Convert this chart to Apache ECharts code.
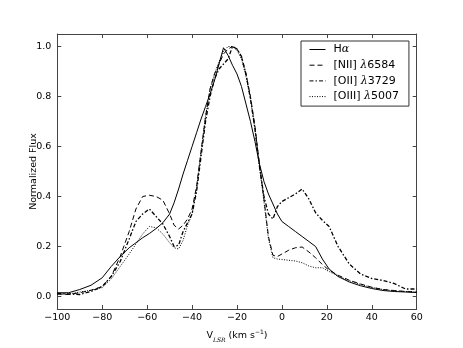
<!DOCTYPE html>
<html>
<head>
<meta charset="utf-8">
<script src="https://cdn.jsdelivr.net/npm/echarts@6/dist/echarts.min.js"></script>
<style>
  html, body { margin: 0; padding: 0; background: #fff; }
  #chart { width: 463px; height: 348px; }
</style>
</head>
<body>
<div id="chart"></div>
<script>
// velocity grid (km/s) shared by all profiles
const velocity = [-100, -95, -90, -85, -80, -76, -72, -68, -65, -62, -59, -56, -53, -50, -48, -46, -44, -42, -40, -38, -36, -34, -32, -30, -28, -26, -24, -22, -20, -18, -16, -14, -12, -10, -8, -6, -4, -2, 0, 3, 6, 9, 12, 15, 18, 21, 25, 30, 35, 40, 45, 50, 55, 60]

const halpha = [0.015, 0.015, 0.028, 0.045, 0.075, 0.12, 0.16, 0.195, 0.215, 0.235, 0.252, 0.272, 0.295, 0.33, 0.375, 0.43, 0.49, 0.545, 0.6, 0.655, 0.71, 0.76, 0.81, 0.865, 0.93, 0.995, 0.965, 0.925, 0.89, 0.84, 0.77, 0.7, 0.62, 0.53, 0.46, 0.41, 0.37, 0.33, 0.3, 0.28, 0.26, 0.24, 0.22, 0.2, 0.15, 0.11, 0.08, 0.058, 0.043, 0.032, 0.024, 0.02, 0.018, 0.016]
const nii6584 = [0.01, 0.008, 0.015, 0.025, 0.04, 0.08, 0.16, 0.26, 0.35, 0.4, 0.405, 0.4, 0.385, 0.33, 0.285, 0.27, 0.285, 0.31, 0.35, 0.44, 0.58, 0.72, 0.83, 0.89, 0.93, 0.97, 0.99, 1.0, 0.99, 0.96, 0.89, 0.8, 0.68, 0.53, 0.39, 0.24, 0.165, 0.16, 0.17, 0.185, 0.195, 0.198, 0.178, 0.155, 0.128, 0.105, 0.085, 0.065, 0.05, 0.037, 0.028, 0.024, 0.02, 0.018]
const oii3729 = [0.012, 0.01, 0.008, 0.02, 0.04, 0.08, 0.14, 0.23, 0.3, 0.33, 0.35, 0.32, 0.29, 0.24, 0.2, 0.205, 0.26, 0.295, 0.33, 0.42, 0.56, 0.7, 0.8, 0.87, 0.91, 0.93, 0.95, 1.0, 0.99, 0.96, 0.89, 0.79, 0.67, 0.52, 0.4, 0.33, 0.31, 0.36, 0.38, 0.395, 0.41, 0.43, 0.39, 0.335, 0.305, 0.28, 0.2, 0.13, 0.09, 0.072, 0.064, 0.052, 0.03, 0.03]
const oiii5007 = [0.01, 0.01, 0.018, 0.025, 0.035, 0.07, 0.12, 0.17, 0.21, 0.25, 0.28, 0.275, 0.25, 0.215, 0.195, 0.19, 0.225, 0.285, 0.33, 0.43, 0.58, 0.72, 0.83, 0.89, 0.94, 0.98, 1.0, 1.0, 0.985, 0.95, 0.88, 0.79, 0.67, 0.52, 0.38, 0.23, 0.155, 0.15, 0.148, 0.145, 0.142, 0.135, 0.122, 0.115, 0.115, 0.1, 0.082, 0.063, 0.048, 0.036, 0.028, 0.022, 0.02, 0.018]

const yTicks = [0, 0.2, 0.4, 0.6, 0.8, 1.0]

const font = 'DejaVu Sans'
const frame = '#444'

const pairs = vals => velocity.map((v, i) => [v, vals[i]])

const legendRich = {
  'Hα': '{r|H}{i|α}',
  '[NII] λ6584': '{r|[NII] }{i|λ}{r|6584}',
  '[OII] λ3729': '{r|[OII] }{i|λ}{r|3729}',
  '[OIII] λ5007': '{r|[OIII] }{i|λ}{r|5007}'
}

const fmtX = v => (v < 0 ? '\u2212' + Math.abs(v) : String(v))

const axisLine = { onZero: false, lineStyle: { color: frame, width: 1 } }

const chart = echarts.init(document.getElementById('chart'))
chart.setOption({
  animation: false,
  backgroundColor: '#fff',
  textStyle: { fontFamily: font },
  grid: { left: 57.3, right: 46.3, top: 34, bottom: 35 },
  legend: {
    orient: 'vertical',
    left: 301,
    top: 41,
    width: 110,
    padding: [3, 10, 4, 8],
    itemWidth: 16,
    itemHeight: 12,
    itemGap: 4.7,
    borderColor: '#333',
    borderWidth: 1,
    borderRadius: 0,
    backgroundColor: '#fff',
    itemStyle: { opacity: 0 },
    lineStyle: { width: 1 },
    formatter: name => legendRich[name],
    textStyle: {
      padding: [0, 0, 0, 3],
      rich: {
        r: { fontFamily: font, fontSize: 11, color: '#000' },
        i: { fontFamily: 'DejaVu Serif', fontStyle: 'italic', fontSize: 11, color: '#000' }
      }
    },
    data: ['Hα', '[NII] λ6584', '[OII] λ3729', '[OIII] λ5007']
  },
  xAxis: [
    {
      type: 'value',
      min: -100,
      max: 60,
      interval: 20,
      name: '{a|V}{s|LSR}{a| (km s}{p|\u22121}{a|)}',
      nameLocation: 'middle',
      nameGap: 20,
      nameMoveOverlap: false,
      nameTextStyle: {
        rich: {
          a: { fontFamily: font, fontSize: 9.5, color: '#000', lineHeight: 14 },
          s: { fontFamily: 'DejaVu Serif', fontStyle: 'italic', fontSize: 6, color: '#000', verticalAlign: 'bottom', lineHeight: 14, padding: [5, 0, 0, 0] },
          p: { fontFamily: font, fontSize: 6, color: '#000', verticalAlign: 'top', lineHeight: 14, padding: [0, 0, 5, 0] }
        }
      },
      axisLine: axisLine,
      axisTick: { inside: true, length: 4, lineStyle: { color: frame } },
      splitLine: { show: false },
      axisLabel: { formatter: fmtX, fontSize: 9.5, color: '#000', margin: 4, fontFamily: font }
    },
    {
      type: 'value',
      position: 'top',
      min: -100,
      max: 60,
      interval: 20,
      axisLine: axisLine,
      axisTick: { inside: true, length: 4, lineStyle: { color: frame } },
      splitLine: { show: false },
      axisLabel: { show: false }
    }
  ],
  yAxis: [
    {
      type: 'value',
      min: -0.05,
      max: 1.05,
      name: 'Normalized Flux',
      nameLocation: 'middle',
      nameGap: 19,
      nameMoveOverlap: false,
      nameTextStyle: { fontFamily: font, fontSize: 9.5, color: '#000' },
      axisLine: axisLine,
      axisTick: { inside: true, length: 4, lineStyle: { color: frame }, customValues: yTicks },
      splitLine: { show: false },
      axisLabel: { customValues: yTicks, formatter: v => v.toFixed(1), fontSize: 9.5, color: '#000', margin: 6, fontFamily: font }
    },
    {
      type: 'value',
      position: 'right',
      min: -0.05,
      max: 1.05,
      axisLine: axisLine,
      axisTick: { inside: true, length: 4, lineStyle: { color: frame }, customValues: yTicks },
      splitLine: { show: false },
      axisLabel: { show: false }
    }
  ],
  series: [
    { name: 'Hα', type: 'line', data: pairs(halpha), showSymbol: false, symbol: 'none', lineStyle: { color: '#000', width: 1, type: 'solid' }, itemStyle: { color: '#000' } },
    { name: '[NII] λ6584', type: 'line', data: pairs(nii6584), showSymbol: false, symbol: 'none', lineStyle: { color: '#000', width: 1, type: [5, 3] }, itemStyle: { color: '#000' } },
    { name: '[OII] λ3729', type: 'line', data: pairs(oii3729), showSymbol: false, symbol: 'none', lineStyle: { color: '#000', width: 1.3, type: [4, 2, 1.5, 2] }, itemStyle: { color: '#000' } },
    { name: '[OIII] λ5007', type: 'line', data: pairs(oiii5007), showSymbol: false, symbol: 'none', lineStyle: { color: '#000', width: 1, type: [1, 1.5] }, itemStyle: { color: '#000' } }
  ]
})
</script>
</body>
</html>
